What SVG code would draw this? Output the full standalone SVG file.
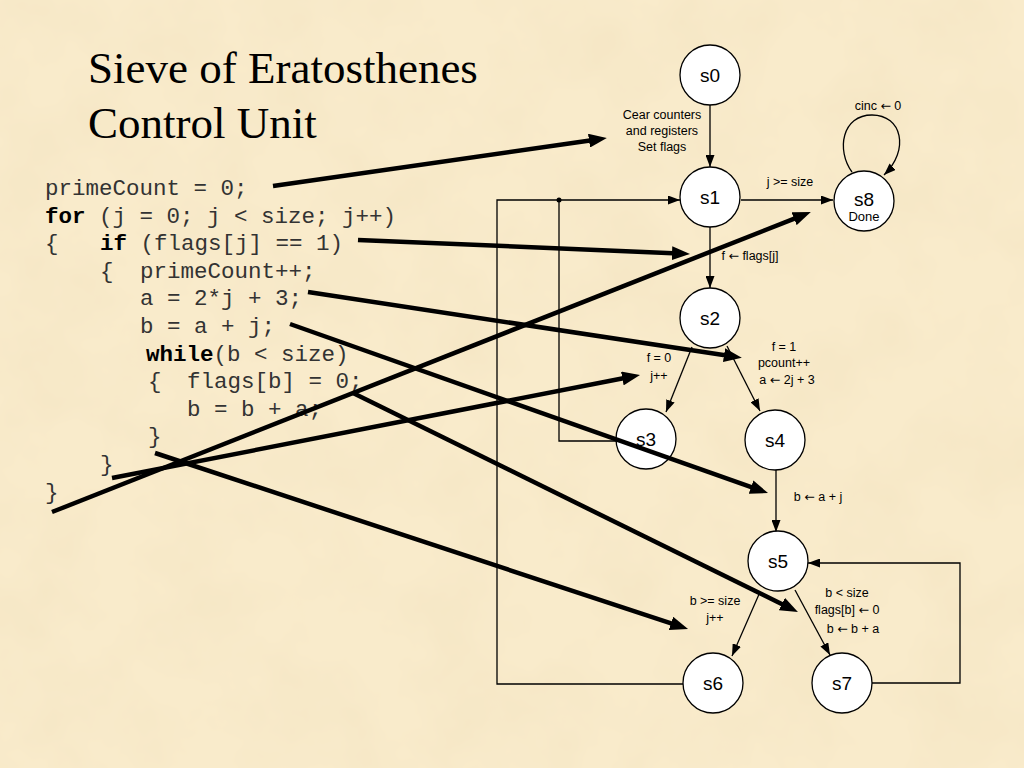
<svg xmlns="http://www.w3.org/2000/svg" width="1024" height="768" viewBox="0 0 1024 768">
<defs>
<style>
.node circle{fill:#fff;stroke:#000;stroke-width:1.3}
.nl{font-family:"Liberation Sans",Arial,sans-serif;font-size:19px;text-anchor:middle;fill:#000}
.lb{font-family:"Liberation Sans",Arial,sans-serif;font-size:12.5px;text-anchor:middle;fill:#000}
.ar{font-family:"DejaVu Sans",sans-serif}
.thin{fill:none;stroke:#000;stroke-width:1.3}
.thick{fill:none;stroke:#000;stroke-width:4.5}
.code{font-family:"Liberation Mono","Courier New",monospace;font-size:22.5px;fill:#333}
.b{font-weight:bold;fill:#000}
.title{font-family:"Liberation Serif","Times New Roman",serif;font-size:45px;fill:#000}
</style>
<marker id="ah" viewBox="0 0 12 9" refX="12" refY="4.5" markerWidth="12" markerHeight="9" markerUnits="userSpaceOnUse" orient="auto">
<path d="M0,0 L12,4.5 L0,9 Z" fill="#000"/>
</marker>
<marker id="AH" viewBox="0 0 18 14" refX="1" refY="7" markerWidth="18" markerHeight="14" markerUnits="userSpaceOnUse" orient="auto">
<path d="M0,0 L18,7 L0,14 Z" fill="#000"/>
</marker>
<filter id="paper" x="0" y="0" width="100%" height="100%">
<feTurbulence type="fractalNoise" baseFrequency="0.012" numOctaves="4" seed="7"/>
<feColorMatrix type="matrix" values="0 0 0 0 0.88  0 0 0 0 0.76  0 0 0 0 0.52  0.9 0 0 0 -0.33"/>
</filter>
</defs>
<rect width="1024" height="768" fill="#F9EBCB"/>
<rect width="1024" height="768" filter="url(#paper)"/>

<g id="title">
<text class="title" x="88" y="83">Sieve of Eratosthenes</text>
<text class="title" x="88" y="138">Control Unit</text>
</g>

<g id="code">
<text class="code" x="45" y="195">primeCount = 0;</text>
<text class="code" x="45" y="222.6"><tspan class="b">for</tspan> (j = 0; j &lt; size; j++)</text>
<text class="code" x="45" y="250.2">{</text>
<text class="code" x="100" y="250.2"><tspan class="b">if</tspan> (flags[j] == 1)</text>
<text class="code" x="100" y="277.8">{</text>
<text class="code" x="140" y="277.8">primeCount++;</text>
<text class="code" x="140" y="305.4">a = 2*j + 3;</text>
<text class="code" x="140" y="333">b = a + j;</text>
<text class="code" x="146" y="360.6"><tspan class="b">while</tspan>(b &lt; size)</text>
<text class="code" x="148" y="388.2">{</text>
<text class="code" x="187" y="388.2">flags[b] = 0;</text>
<text class="code" x="187" y="415.8">b = b + a;</text>
<text class="code" x="148" y="443.4">}</text>
<text class="code" x="100" y="471">}</text>
<text class="code" x="45" y="498.6">}</text>
</g>

<g id="connectors">
<path class="thin" d="M710,105 V167" marker-end="url(#ah)"/>
<path class="thin" d="M741,200 H833" marker-end="url(#ah)"/>
<path class="thin" d="M852,172 C836,150 842,115 872,115 C902,115 910,150 884,175" marker-end="url(#ah)"/>
<path class="thin" d="M710,227 V288" marker-end="url(#ah)"/>
<path class="thin" d="M692,347 L666,412" marker-end="url(#ah)"/>
<path class="thin" d="M727,346 L760,411" marker-end="url(#ah)"/>
<path class="thin" d="M776,470 V532" marker-end="url(#ah)"/>
<path class="thin" d="M760,592 L732,656" marker-end="url(#ah)"/>
<path class="thin" d="M795,590 L830,655" marker-end="url(#ah)"/>
<path class="thin" d="M872,683 H960 V563 H808" marker-end="url(#ah)"/>
<path class="thin" d="M683,684 H497 V200 H680" marker-end="url(#ah)"/>
<path class="thin" d="M616,441 H559 V200"/>
<circle cx="559" cy="200" r="2.5" fill="#000"/>
</g>

<g id="labels">
<text class="lb" x="662" y="119">Cear counters</text>
<text class="lb" x="662" y="135">and registers</text>
<text class="lb" x="662" y="151">Set flags</text>
<text class="lb" x="790" y="186">j &gt;= size</text>
<text class="lb" x="878" y="110">cinc <tspan class="ar">←</tspan> 0</text>
<text class="lb" x="750" y="260">f <tspan class="ar">←</tspan> flags[j]</text>
<text class="lb" x="659" y="362">f = 0</text>
<text class="lb" x="659" y="380">j++</text>
<text class="lb" x="784" y="351">f = 1</text>
<text class="lb" x="784" y="367">pcount++</text>
<text class="lb" x="787" y="384">a <tspan class="ar">←</tspan> 2j + 3</text>
<text class="lb" x="818" y="501">b <tspan class="ar">←</tspan> a + j</text>
<text class="lb" x="715" y="605">b &gt;= size</text>
<text class="lb" x="715" y="622">j++</text>
<text class="lb" x="847" y="597">b &lt; size</text>
<text class="lb" x="847" y="614">flags[b] <tspan class="ar">←</tspan> 0</text>
<text class="lb" x="853" y="633">b <tspan class="ar">←</tspan> b + a</text>
</g>

<g id="s0" class="node"><circle cx="710" cy="75" r="30"/><text class="nl" x="710" y="82">s0</text></g>
<g id="s1" class="node"><circle cx="710" cy="197" r="30"/><text class="nl" x="710" y="204">s1</text></g>
<g id="s8" class="node"><circle cx="864" cy="201" r="30"/><text class="nl" x="864" y="206">s8</text><text class="lb" x="864" y="221" style="font-size:13px">Done</text></g>
<g id="s2" class="node"><circle cx="710" cy="318" r="30"/><text class="nl" x="710" y="325">s2</text></g>
<g id="s3" class="node"><circle cx="646" cy="439" r="30"/><text class="nl" x="646" y="446">s3</text></g>
<g id="s4" class="node"><circle cx="775" cy="440" r="30"/><text class="nl" x="775" y="447">s4</text></g>
<g id="s5" class="node"><circle cx="778" cy="561" r="30"/><text class="nl" x="778" y="568">s5</text></g>
<g id="s6" class="node"><circle cx="713" cy="683" r="30"/><text class="nl" x="713" y="690">s6</text></g>
<g id="s7" class="node"><circle cx="842" cy="683" r="30"/><text class="nl" x="842" y="690">s7</text></g>

<g id="code-links">
<path class="thick" d="M273,186 L590,140.5" marker-end="url(#AH)"/>
<path class="thick" d="M358,240 L673,253.2" marker-end="url(#AH)"/>
<path class="thick" d="M308,292 L725,355.3" marker-end="url(#AH)"/>
<path class="thick" d="M290,324 L752,487.4" marker-end="url(#AH)"/>
<path class="thick" d="M52,512 L795,218.3" marker-end="url(#AH)"/>
<path class="thick" d="M112,478 L623.3,378.3" marker-end="url(#AH)"/>
<path class="thick" d="M353,393 L782.7,604.5" marker-end="url(#AH)"/>
<path class="thick" d="M155,453 L671.9,623.7" marker-end="url(#AH)"/>
</g>
</svg>
